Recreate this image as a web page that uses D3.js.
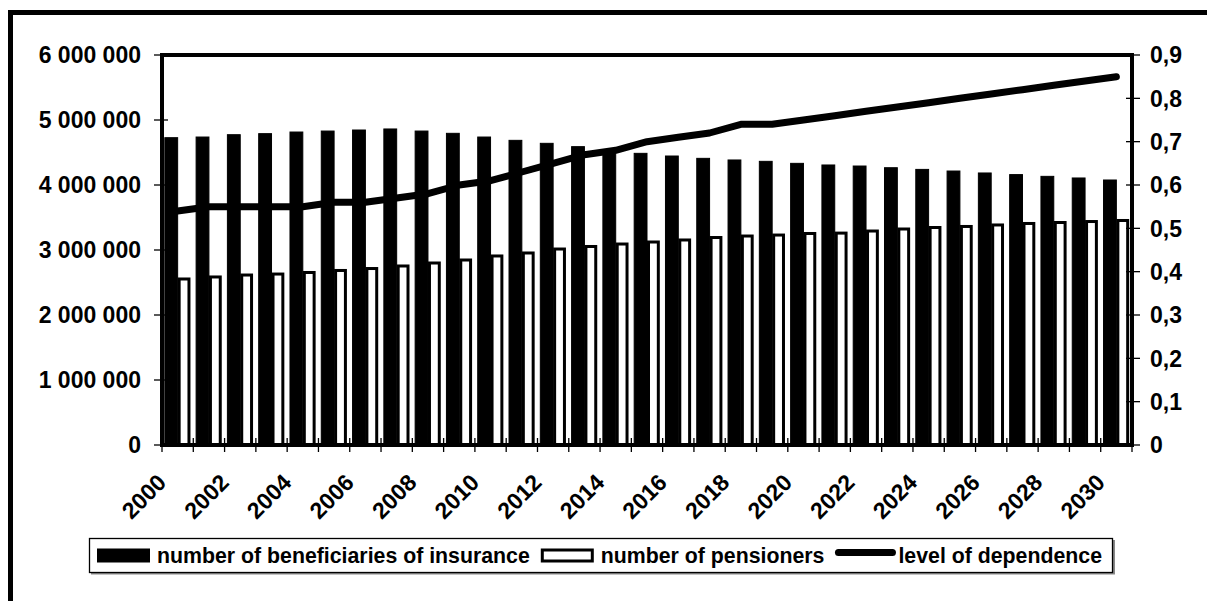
<!DOCTYPE html>
<html><head><meta charset="utf-8">
<script src="https://cdn.jsdelivr.net/npm/d3@7"></script>
<style>
html,body{margin:0;padding:0;background:#fff;}
svg{display:block;}
text{font-family:"Liberation Sans",Arial,sans-serif;font-weight:bold;fill:#000;}
</style></head>
<body>
<svg id="chart" width="1207" height="601"></svg>
<script>
const years = d3.range(2000, 2031).map(String);
const beneficiaries = [4728000,4738000,4774000,4790000,4815000,4830000,4846000,4862000,4830000,4795000,4738000,4687000,4641000,4590000,4540000,4487000,4446000,4410000,4385000,4364000,4333000,4308000,4292000,4266000,4240000,4215000,4185000,4160000,4133000,4108000,4077000];
const pensioners = [2554000,2585000,2615000,2630000,2654000,2685000,2715000,2754000,2800000,2846000,2908000,2954000,3015000,3054000,3092000,3123000,3154000,3192000,3215000,3230000,3254000,3260000,3292000,3323000,3346000,3362000,3385000,3408000,3423000,3438000,3454000];
const dependence = [0.54,0.55,0.55,0.55,0.55,0.56,0.56,0.57,0.58,0.60,0.61,0.63,0.65,0.67,0.68,0.70,0.71,0.72,0.74,0.74,0.75,0.76,0.77,0.78,0.79,0.80,0.81,0.82,0.83,0.84,0.85];
const leftTicks = [0,1000000,2000000,3000000,4000000,5000000,6000000];
const rightTicks = [0,0.1,0.2,0.3,0.4,0.5,0.6,0.7,0.8,0.9];
const xLabelYears = years.filter((d,i)=>i%2===0);
const legendLabels = ["number of beneficiaries of insurance","number of pensioners","level of dependence"];

const svg = d3.select("#chart");
const L=162, R=1132, T=55, B=445;

// outer frame
svg.append("rect").attr("x",10.5).attr("y",12.5).attr("width",1400).attr("height",800)
  .attr("fill","none").attr("stroke","#000").attr("stroke-width",5);

const x = d3.scaleBand().domain(years).range([L,R]).paddingInner(0).paddingOuter(0);
const xs = d3.scaleBand().domain(["b","p"]).range([0,x.bandwidth()]).paddingInner(0).paddingOuter(0.22);
const yL = d3.scaleLinear().domain([0,6000000]).range([B,T]);
const yR = d3.scaleLinear().domain([0,0.9]).range([B,T]);

// bars
const g = svg.append("g");
g.selectAll("rect.b").data(years).join("rect").attr("class","b")
  .attr("x",d=>x(d)+xs("b")).attr("width",xs.bandwidth())
  .attr("y",(d,i)=>yL(beneficiaries[i])).attr("height",(d,i)=>B-yL(beneficiaries[i]))
  .attr("fill","#000").attr("stroke","#000").attr("stroke-width",1);
g.selectAll("rect.p").data(years).join("rect").attr("class","p")
  .attr("x",d=>x(d)+xs("p")+1.5).attr("width",xs.bandwidth()-3)
  .attr("y",(d,i)=>yL(pensioners[i])).attr("height",(d,i)=>B-yL(pensioners[i]))
  .attr("fill","#fff").attr("stroke","#000").attr("stroke-width",3);

// x ticks (cross)
svg.append("g").selectAll("line").data(d3.range(years.length+1)).join("line")
  .attr("x1",i=>L+i*x.bandwidth()).attr("x2",i=>L+i*x.bandwidth())
  .attr("y1",B-7).attr("y2",B+7).attr("stroke","#000").attr("stroke-width",1.3);

// line
const line = d3.line().x((d,i)=>x(years[i])+x.bandwidth()/2).y(d=>yR(d));
svg.append("path").datum(dependence).attr("d",line).attr("fill","none")
  .attr("stroke","#000").attr("stroke-width",7).attr("stroke-linejoin","round").attr("stroke-linecap","round");

// plot frame
svg.append("rect").attr("x",L).attr("y",T).attr("width",R-L).attr("height",B-T)
  .attr("fill","none").attr("stroke","#000").attr("stroke-width",4);

// left axis
const fmtL = d => d3.format(",")(d).replace(/,/g," ");
const gl = svg.append("g");
gl.selectAll("line").data(leftTicks).join("line")
  .attr("x1",L-8).attr("x2",L+6).attr("y1",d=>yL(d)).attr("y2",d=>yL(d))
  .attr("stroke","#000").attr("stroke-width",1.3);
gl.selectAll("text").data(leftTicks).join("text")
  .attr("x",141).attr("y",d=>yL(d)).attr("dy","0.36em").attr("text-anchor","end")
  .style("font-size","23px").text(fmtL);

// right axis
const gr = svg.append("g");
gr.selectAll("line").data(rightTicks).join("line")
  .attr("x1",R-6).attr("x2",R+8).attr("y1",d=>yR(d)).attr("y2",d=>yR(d))
  .attr("stroke","#000").attr("stroke-width",1.3);
gr.selectAll("text").data(rightTicks).join("text")
  .attr("x",1150).attr("y",d=>yR(d)).attr("dy","0.36em").attr("text-anchor","start")
  .style("font-size","23px").text(d=> d===0 ? "0" : d3.format(".1f")(d).replace(".",","));

// x labels
svg.append("g").selectAll("text").data(xLabelYears).join("text")
  .attr("transform",d=>`translate(${x(d)+x.bandwidth()/2-10},484) rotate(-45)`)
  .attr("text-anchor","end").style("font-size","23px").text(d=>d);

// legend
const lg = svg.append("g");
lg.append("rect").attr("x",91).attr("y",540).attr("width",1024).attr("height",34.5).attr("fill","#888");
lg.append("rect").attr("x",89.5).attr("y",538.5).attr("width",1023).attr("height",34)
  .attr("fill","#fff").attr("stroke","#000").attr("stroke-width",1.3);
let cx = 97;
const ly = 555.5;
legendLabels.forEach((lab,i)=>{
  if(i===0){
    lg.append("rect").attr("x",cx).attr("y",548.5).attr("width",53).attr("height",14).attr("fill","#000");
  } else if(i===1){
    lg.append("rect").attr("x",cx+1.5).attr("y",550).attr("width",50).attr("height",11).attr("fill","#fff").attr("stroke","#000").attr("stroke-width",3);
  } else {
    lg.append("line").attr("x1",cx+3).attr("x2",cx+57).attr("y1",ly-3).attr("y2",ly-3).attr("stroke","#000").attr("stroke-width",7).attr("stroke-linecap","round");
  }
  const off = i===2 ? 63 : 60;
  const t = lg.append("text").attr("x",cx+off).attr("y",ly).attr("dy","0.36em").style("font-size","21.3px").text(lab);
  cx = cx + off + t.node().getComputedTextLength() + 11;
});
</script>
</body></html>
